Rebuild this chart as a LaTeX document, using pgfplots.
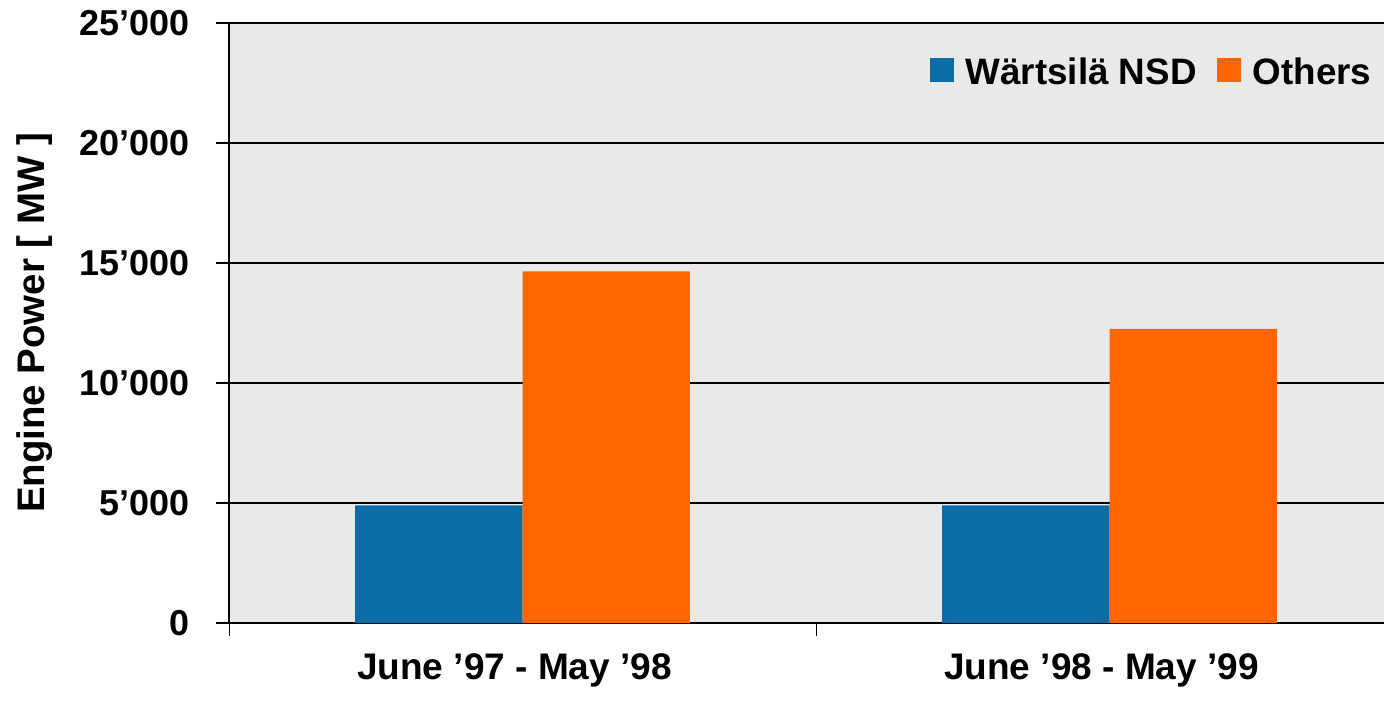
\documentclass[border=0pt]{standalone}
\usepackage{pgfplots}
\pgfplotsset{compat=1.18}
\usepackage{fontspec}
\setmainfont{Liberation Sans}
\definecolor{wblue}{RGB}{11,108,168}
\definecolor{worange}{RGB}{255,102,0}
\definecolor{bggray}{RGB}{233,233,233}
\begin{document}
\begin{tikzpicture}
\useasboundingbox (0,0) rectangle (692pt,350.5pt);
\begin{axis}[
  at={(114.5pt,39pt)}, anchor=south west,
  width=577.5pt, height=300pt, scale only axis,
  xmin=-0.5, xmax=1.4676,
  ymin=0, ymax=25000,
  scaled y ticks=false,
  axis x line*=bottom, axis y line*=left,
  axis line style={black, line width=0.8pt},
  axis background/.style={fill=bggray},
  ybar=0pt, bar width=0.285,
  xtick={-0.5,0.5},
  xticklabels={},
  extra x ticks={0,1},
  extra x tick labels={June ’97 - May ’98, June ’98 - May ’99},
  extra x tick style={major tick length=0pt},
  ytick={0,5000,10000,15000,20000,25000},
  yticklabels={0,5’000,10’000,15’000,20’000,25’000},
  major tick length=6.5pt,
  tick align=outside,
  tick style={black, line width=0.8pt},
  x tick style={line width=0.45pt},
  ymajorgrids,
  major grid style={black, line width=0.8pt},
  tick label style={font=\bfseries\fontsize{18}{21.6}\selectfont},
  xticklabel style={yshift=-12pt, xshift=-4pt, font=\bfseries\fontsize{18.5}{22}\selectfont},
  yticklabel style={xshift=-9.5pt},
  ylabel={Engine Power [ MW ]},
  ylabel style={font=\bfseries\fontsize{19.2}{23}\selectfont, at={(axis description cs:-0.168,0.5)}, anchor=center},
  legend style={draw=none, fill=none, at={(axis description cs:0.998,0.918)}, anchor=east,
    font=\bfseries\fontsize{18.4}{22}\selectfont, legend columns=2,
    /tikz/every odd column/.append style={column sep=4pt},
    /tikz/every even column/.append style={column sep=8pt}},
  legend image code/.code={\fill[#1] (0pt,-5pt) rectangle (12pt,7pt);},
]
\addplot[fill=wblue, draw=none] coordinates {(0,4900) (1,4900)};
\addplot[fill=worange, draw=none] coordinates {(0,14650) (1,12250)};
\legend{Wärtsilä NSD, Others}
\end{axis}
\end{tikzpicture}
\end{document}
